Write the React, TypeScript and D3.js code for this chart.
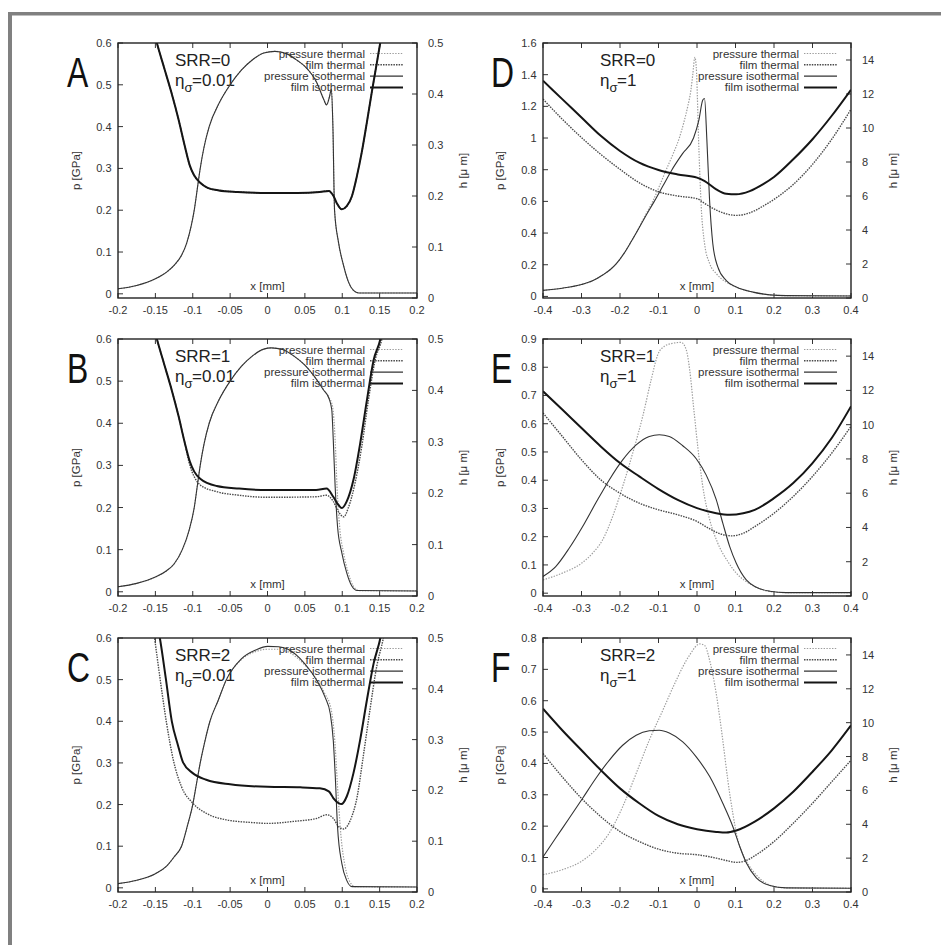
import React from 'react';
import * as d3 from 'd3';

type Pt = [number, number];

// ---------- Panel A (SRR=0, eta=0.01) ----------
const pressureThermalA: Pt[] = [[-0.2,0.012],[-0.175,0.02],[-0.15,0.036],[-0.135,0.052],[-0.125,0.068],[-0.115,0.092],[-0.108,0.122],[-0.102,0.163],[-0.098,0.2],[-0.094,0.25],[-0.09,0.3],[-0.085,0.35],[-0.078,0.4],[-0.065,0.455],[-0.05,0.5],[-0.035,0.535],[-0.02,0.56],[-0.005,0.576],[0.01,0.58],[0.026,0.574],[0.04,0.558],[0.05,0.544],[0.066,0.505],[0.075,0.466],[0.079,0.452],[0.083,0.472],[0.0855,0.49],[0.0875,0.4],[0.0897,0.2],[0.095,0.123],[0.1017,0.068],[0.1084,0.028],[0.115,0.008],[0.122,0.002],[0.2,0.002]];
const filmThermalA: Pt[] = [[-0.156,0.545],[-0.148,0.5],[-0.138,0.45],[-0.128,0.4],[-0.119,0.35],[-0.111,0.3],[-0.104,0.26],[-0.098,0.24],[-0.09,0.226],[-0.08,0.216],[-0.065,0.211],[-0.04,0.208],[0,0.206],[0.04,0.206],[0.07,0.208],[0.082,0.21],[0.0883,0.2],[0.0927,0.186],[0.0994,0.174],[0.106,0.18],[0.113,0.2],[0.1196,0.239],[0.126,0.285],[0.133,0.345],[0.1397,0.405],[0.1464,0.462],[0.1508,0.5],[0.156,0.54]];
const pressureIsoA: Pt[] = [[-0.2,0.012],[-0.175,0.02],[-0.15,0.036],[-0.135,0.052],[-0.125,0.068],[-0.115,0.092],[-0.108,0.122],[-0.102,0.163],[-0.098,0.2],[-0.094,0.25],[-0.09,0.3],[-0.085,0.35],[-0.078,0.4],[-0.065,0.455],[-0.05,0.5],[-0.035,0.535],[-0.02,0.56],[-0.005,0.576],[0.01,0.58],[0.026,0.574],[0.04,0.558],[0.05,0.544],[0.066,0.505],[0.075,0.466],[0.079,0.452],[0.083,0.472],[0.0855,0.49],[0.0875,0.4],[0.0897,0.2],[0.095,0.123],[0.1017,0.068],[0.1084,0.028],[0.115,0.008],[0.122,0.002],[0.2,0.002]];
const filmIsoA: Pt[] = [[-0.156,0.545],[-0.148,0.5],[-0.138,0.45],[-0.128,0.4],[-0.119,0.35],[-0.111,0.3],[-0.104,0.26],[-0.098,0.24],[-0.09,0.226],[-0.08,0.216],[-0.065,0.211],[-0.04,0.208],[0,0.206],[0.04,0.206],[0.07,0.208],[0.082,0.21],[0.0883,0.2],[0.0927,0.186],[0.0994,0.174],[0.106,0.18],[0.113,0.2],[0.1196,0.239],[0.126,0.285],[0.133,0.345],[0.1397,0.405],[0.1464,0.462],[0.1508,0.5],[0.156,0.54]];

// ---------- Panel B (SRR=1, eta=0.01) ----------
const pressureThermalB: Pt[] = [[-0.2,0.012],[-0.175,0.02],[-0.15,0.035],[-0.135,0.05],[-0.125,0.066],[-0.114,0.1],[-0.105,0.145],[-0.098,0.2],[-0.094,0.25],[-0.09,0.3],[-0.085,0.35],[-0.078,0.4],[-0.065,0.455],[-0.05,0.5],[-0.035,0.535],[-0.02,0.56],[-0.005,0.576],[0.005,0.579],[0.02,0.575],[0.035,0.56],[0.05,0.538],[0.066,0.503],[0.075,0.48],[0.082,0.462],[0.087,0.44],[0.0905,0.36],[0.093,0.25],[0.0965,0.155],[0.102,0.09],[0.108,0.045],[0.115,0.013],[0.122,0.003],[0.2,0.002]];
const filmThermalB: Pt[] = [[-0.156,0.545],[-0.148,0.5],[-0.138,0.45],[-0.128,0.4],[-0.119,0.35],[-0.111,0.3],[-0.104,0.255],[-0.098,0.232],[-0.09,0.216],[-0.068,0.203],[-0.038,0.196],[0,0.192],[0.065,0.193],[0.079,0.196],[0.088,0.184],[0.095,0.164],[0.102,0.154],[0.108,0.171],[0.117,0.219],[0.126,0.29],[0.135,0.381],[0.144,0.459],[0.153,0.5],[0.158,0.54]];
const pressureIsoB: Pt[] = [[-0.2,0.012],[-0.175,0.02],[-0.15,0.035],[-0.135,0.05],[-0.125,0.066],[-0.114,0.1],[-0.105,0.145],[-0.098,0.2],[-0.094,0.25],[-0.09,0.3],[-0.085,0.35],[-0.078,0.4],[-0.065,0.455],[-0.05,0.5],[-0.035,0.535],[-0.02,0.56],[-0.005,0.576],[0.005,0.579],[0.02,0.575],[0.035,0.56],[0.05,0.538],[0.066,0.503],[0.075,0.479],[0.082,0.46],[0.086,0.432],[0.088,0.36],[0.0905,0.25],[0.0937,0.155],[0.0995,0.092],[0.106,0.045],[0.113,0.013],[0.12,0.003],[0.2,0.002]];
const filmIsoB: Pt[] = [[-0.156,0.545],[-0.148,0.5],[-0.138,0.45],[-0.128,0.4],[-0.119,0.35],[-0.111,0.3],[-0.104,0.262],[-0.098,0.242],[-0.09,0.228],[-0.068,0.214],[-0.038,0.209],[0,0.206],[0.065,0.206],[0.079,0.209],[0.088,0.193],[0.095,0.177],[0.0995,0.171],[0.106,0.184],[0.115,0.226],[0.124,0.297],[0.133,0.381],[0.142,0.459],[0.151,0.5],[0.156,0.54]];

// ---------- Panel C (SRR=2, eta=0.01) ----------
const pressureThermalC: Pt[] = [[-0.2,0.01],[-0.175,0.018],[-0.15,0.034],[-0.135,0.052],[-0.125,0.074],[-0.115,0.1],[-0.107,0.15],[-0.1,0.2],[-0.095,0.25],[-0.09,0.3],[-0.084,0.35],[-0.077,0.4],[-0.066,0.45],[-0.055,0.5],[-0.035,0.548],[-0.015,0.568],[0,0.573],[0.015,0.573],[0.026,0.568],[0.05,0.535],[0.066,0.5],[0.077,0.465],[0.085,0.43],[0.09,0.354],[0.0935,0.25],[0.098,0.13],[0.104,0.05],[0.11,0.015],[0.117,0.003],[0.2,0.002]];
const filmThermalC: Pt[] = [[-0.156,0.56],[-0.151,0.5],[-0.144,0.423],[-0.135,0.332],[-0.126,0.26],[-0.115,0.207],[-0.1,0.175],[-0.082,0.155],[-0.055,0.142],[-0.023,0.137],[0,0.135],[0.035,0.139],[0.066,0.145],[0.079,0.152],[0.088,0.145],[0.095,0.129],[0.102,0.124],[0.111,0.142],[0.12,0.188],[0.128,0.266],[0.137,0.358],[0.146,0.443],[0.155,0.5],[0.16,0.54]];
const pressureIsoC: Pt[] = [[-0.2,0.01],[-0.175,0.018],[-0.15,0.034],[-0.135,0.052],[-0.125,0.074],[-0.115,0.1],[-0.107,0.15],[-0.1,0.2],[-0.095,0.25],[-0.09,0.3],[-0.084,0.35],[-0.077,0.4],[-0.066,0.45],[-0.055,0.5],[-0.035,0.55],[-0.015,0.572],[0,0.58],[0.015,0.579],[0.026,0.574],[0.05,0.538],[0.066,0.498],[0.077,0.458],[0.084,0.418],[0.088,0.354],[0.0905,0.274],[0.0937,0.146],[0.0995,0.058],[0.106,0.018],[0.113,0.003],[0.2,0.002]];
const filmIsoC: Pt[] = [[-0.15,0.545],[-0.144,0.5],[-0.136,0.42],[-0.128,0.336],[-0.12,0.29],[-0.113,0.255],[-0.1,0.234],[-0.082,0.221],[-0.05,0.212],[0,0.207],[0.044,0.206],[0.07,0.204],[0.082,0.198],[0.088,0.185],[0.095,0.175],[0.099,0.173],[0.106,0.188],[0.115,0.234],[0.124,0.3],[0.133,0.378],[0.142,0.45],[0.151,0.5],[0.156,0.54]];

// ---------- Panel D (SRR=0, eta=1) ----------
const pressureThermalD: Pt[] = [[-0.4,0.038],[-0.35,0.052],[-0.3,0.075],[-0.27,0.1],[-0.245,0.135],[-0.225,0.17],[-0.21,0.205],[-0.19,0.27],[-0.17,0.35],[-0.158,0.4],[-0.137,0.5],[-0.115,0.6],[-0.097,0.7],[-0.08,0.8],[-0.062,0.9],[-0.046,1.0],[-0.034,1.1],[-0.024,1.2],[-0.016,1.3],[-0.011,1.4],[-0.0056,1.51],[-0.002,1.45],[0.005,0.925],[0.011,0.566],[0.0196,0.334],[0.033,0.207],[0.05,0.144],[0.076,0.09],[0.102,0.059],[0.1455,0.027],[0.189,0.01],[0.232,0.005],[0.4,0.003]];
const filmThermalD: Pt[] = [[-0.4,11.7],[-0.35,10.52],[-0.3,9.44],[-0.25,8.45],[-0.2,7.57],[-0.15,6.78],[-0.1,6.25],[-0.05,6.0],[0,5.84],[0.02,5.56],[0.05,5.17],[0.076,4.95],[0.102,4.86],[0.137,5.01],[0.172,5.41],[0.2,5.8],[0.25,6.68],[0.3,7.86],[0.35,9.34],[0.4,11.1]];
const pressureIsoD: Pt[] = [[-0.4,0.038],[-0.35,0.052],[-0.3,0.075],[-0.27,0.1],[-0.245,0.135],[-0.225,0.17],[-0.21,0.205],[-0.19,0.27],[-0.17,0.35],[-0.158,0.4],[-0.135,0.5],[-0.111,0.6],[-0.088,0.7],[-0.065,0.8],[-0.038,0.9],[-0.009,1.0],[0.005,1.115],[0.015,1.24],[0.0196,1.25],[0.0256,0.99],[0.0326,0.61],[0.041,0.334],[0.054,0.186],[0.076,0.1],[0.102,0.059],[0.1455,0.027],[0.189,0.01],[0.232,0.005],[0.4,0.003]];
const filmIsoD: Pt[] = [[-0.4,12.78],[-0.35,11.7],[-0.3,10.62],[-0.25,9.54],[-0.2,8.65],[-0.15,7.96],[-0.1,7.53],[-0.05,7.27],[0,7.08],[0.02,6.88],[0.05,6.39],[0.076,6.13],[0.102,6.1],[0.137,6.29],[0.172,6.7],[0.2,7.12],[0.25,8.16],[0.3,9.34],[0.35,10.72],[0.4,12.25]];

// ---------- Panel E (SRR=1, eta=1) ----------
const pressureThermalE: Pt[] = [[-0.4,0.047],[-0.35,0.071],[-0.3,0.106],[-0.271,0.142],[-0.245,0.189],[-0.219,0.272],[-0.193,0.378],[-0.167,0.496],[-0.141,0.626],[-0.119,0.756],[-0.102,0.844],[-0.085,0.874],[-0.063,0.885],[-0.041,0.888],[-0.028,0.862],[-0.019,0.791],[-0.009,0.661],[0.002,0.519],[0.015,0.378],[0.033,0.26],[0.054,0.177],[0.08,0.112],[0.102,0.071],[0.128,0.041],[0.154,0.021],[0.189,0.006],[0.232,0.002],[0.4,0.002]];
const filmThermalE: Pt[] = [[-0.4,10.68],[-0.35,9.32],[-0.3,7.95],[-0.25,6.78],[-0.2,6.0],[-0.15,5.42],[-0.1,5.03],[-0.05,4.74],[0,4.35],[0.03,3.96],[0.06,3.63],[0.09,3.51],[0.12,3.66],[0.15,4.05],[0.2,4.83],[0.25,5.81],[0.3,6.98],[0.35,8.34],[0.4,9.9]];
const pressureIsoE: Pt[] = [[-0.4,0.059],[-0.367,0.094],[-0.332,0.159],[-0.297,0.236],[-0.263,0.319],[-0.228,0.401],[-0.193,0.472],[-0.158,0.525],[-0.124,0.555],[-0.098,0.561],[-0.072,0.555],[-0.037,0.522],[-0.002,0.476],[0.024,0.418],[0.05,0.331],[0.067,0.248],[0.085,0.165],[0.102,0.106],[0.128,0.047],[0.154,0.021],[0.189,0.007],[0.232,0.002],[0.4,0.002]];
const filmIsoE: Pt[] = [[-0.4,11.95],[-0.35,10.88],[-0.3,9.8],[-0.25,8.73],[-0.2,7.76],[-0.15,6.98],[-0.1,6.24],[-0.05,5.61],[0,5.13],[0.05,4.83],[0.085,4.74],[0.12,4.83],[0.15,5.03],[0.2,5.71],[0.25,6.59],[0.3,7.76],[0.35,9.22],[0.4,11.07]];

// ---------- Panel F (SRR=2, eta=1) ----------
const pressureThermalF: Pt[] = [[-0.4,0.045],[-0.35,0.061],[-0.3,0.088],[-0.263,0.125],[-0.228,0.178],[-0.193,0.262],[-0.158,0.368],[-0.124,0.474],[-0.089,0.569],[-0.054,0.665],[-0.02,0.744],[0.007,0.781],[0.02,0.776],[0.033,0.728],[0.05,0.622],[0.067,0.474],[0.08,0.347],[0.093,0.241],[0.106,0.157],[0.124,0.098],[0.146,0.056],[0.172,0.024],[0.198,0.008],[0.232,0.003],[0.4,0.002]];
const filmThermalF: Pt[] = [[-0.4,8.18],[-0.35,6.8],[-0.3,5.53],[-0.25,4.45],[-0.2,3.57],[-0.15,2.98],[-0.1,2.53],[-0.05,2.29],[0,2.2],[0.05,2.0],[0.076,1.86],[0.102,1.75],[0.128,1.86],[0.15,2.14],[0.2,2.98],[0.25,4.06],[0.3,5.24],[0.35,6.51],[0.4,7.78]];
const pressureIsoF: Pt[] = [[-0.4,0.102],[-0.367,0.162],[-0.332,0.225],[-0.297,0.289],[-0.263,0.352],[-0.228,0.41],[-0.193,0.458],[-0.158,0.49],[-0.124,0.504],[-0.098,0.506],[-0.072,0.497],[-0.037,0.469],[-0.002,0.421],[0.033,0.358],[0.067,0.273],[0.093,0.199],[0.111,0.135],[0.128,0.083],[0.154,0.035],[0.189,0.011],[0.232,0.003],[0.4,0.002]];
const filmIsoF: Pt[] = [[-0.4,10.82],[-0.35,9.55],[-0.3,8.37],[-0.25,7.2],[-0.2,6.12],[-0.15,5.24],[-0.1,4.49],[-0.05,4.0],[0,3.71],[0.05,3.55],[0.076,3.51],[0.102,3.63],[0.15,4.16],[0.2,4.94],[0.25,5.92],[0.3,7.1],[0.35,8.37],[0.4,9.84]];

// ---------- labels / ticks ----------
const panelLetters = ['A', 'B', 'C', 'D', 'E', 'F'];
const srrValues = ['0', '1', '2', '0', '1', '2'];
const etaValues = ['0.01', '0.01', '0.01', '1', '1', '1'];
const legendLabels = ['pressure thermal', 'film thermal', 'pressure isothermal', 'film isothermal'];
const xTicksNarrow = [-0.2, -0.15, -0.1, -0.05, 0, 0.05, 0.1, 0.15, 0.2];
const xTicksWide = [-0.4, -0.3, -0.2, -0.1, 0, 0.1, 0.2, 0.3, 0.4];
const pTicksLow = [0, 0.1, 0.2, 0.3, 0.4, 0.5, 0.6];
const pTicksD = [0, 0.2, 0.4, 0.6, 0.8, 1, 1.2, 1.4, 1.6];
const pTicksE = [0, 0.1, 0.2, 0.3, 0.4, 0.5, 0.6, 0.7, 0.8, 0.9];
const pTicksF = [0, 0.1, 0.2, 0.3, 0.4, 0.5, 0.6, 0.7, 0.8];
const hTicksThin = [0, 0.1, 0.2, 0.3, 0.4, 0.5];
const hTicksThick = [0, 2, 4, 6, 8, 10, 12, 14];
const xMaxValues = [0.2, 0.2, 0.2, 0.4, 0.4, 0.4];
const pMinValue = -0.01;
const pMaxValues = [0.6, 0.6, 0.6, 1.6, 0.9, 0.8];
const hMaxValues = [0.5, 0.5, 0.5, 15, 15, 15];

const seriesByPanel: Pt[][][] = [
  [pressureThermalA, filmThermalA, pressureIsoA, filmIsoA],
  [pressureThermalB, filmThermalB, pressureIsoB, filmIsoB],
  [pressureThermalC, filmThermalC, pressureIsoC, filmIsoC],
  [pressureThermalD, filmThermalD, pressureIsoD, filmIsoD],
  [pressureThermalE, filmThermalE, pressureIsoE, filmIsoE],
  [pressureThermalF, filmThermalF, pressureIsoF, filmIsoF],
];
const xTicksByPanel = [xTicksNarrow, xTicksNarrow, xTicksNarrow, xTicksWide, xTicksWide, xTicksWide];
const pTicksByPanel = [pTicksLow, pTicksLow, pTicksLow, pTicksD, pTicksE, pTicksF];
const hTicksByPanel = [hTicksThin, hTicksThin, hTicksThin, hTicksThick, hTicksThick, hTicksThick];

// ---------- layout / styles ----------
const FONT = '"Liberation Sans", Arial, Helvetica, sans-serif';
const COL_LEFT = [118, 543];
const COL_RIGHT = [417, 851];
const ROW_TOP = [43, 339, 638];
const ROW_BOTTOM = [298, 596, 892];
const TICK = 5;
const STYLES = [
  { stroke: '#9c9c9c', width: 1.2, dash: '1.4 1.4', isFilm: false },
  { stroke: '#4a4a4a', width: 1.4, dash: '1.5 1.1', isFilm: true },
  { stroke: '#333', width: 1.1, dash: undefined, isFilm: false },
  { stroke: '#151515', width: 2, dash: undefined, isFilm: true },
];

const fmt = (v: number) => String(+v.toFixed(3));

function Panel({ idx }: { idx: number }) {
  const col = idx < 3 ? 0 : 1;
  const row = idx % 3;
  const left = COL_LEFT[col];
  const right = COL_RIGHT[col];
  const top = ROW_TOP[row];
  const bottom = ROW_BOTTOM[row];
  const xMax = xMaxValues[idx];
  const x = d3.scaleLinear().domain([-xMax, xMax]).range([left, right]);
  const yp = d3.scaleLinear().domain([pMinValue, pMaxValues[idx]]).range([bottom, top]);
  const yh = d3.scaleLinear().domain([0, hMaxValues[idx]]).range([bottom, top]);
  const lineP = d3.line<Pt>().x(d => x(d[0])).y(d => yp(d[1])).curve(d3.curveMonotoneX);
  const lineH = d3.line<Pt>().x(d => x(d[0])).y(d => yh(d[1])).curve(d3.curveMonotoneX);
  const clipId = `clip-${idx}`;
  const midY = (top + bottom) / 2;
  const letterX = col === 0 ? 67 : 491;
  const pLabelX = col === 0 ? 80 : 504;
  const hLabelX = col === 0 ? 467 : 897;
  const legendTextX = right - 52;
  const series = seriesByPanel[idx];

  return (
    <g>
      <defs>
        <clipPath id={clipId}>
          <rect x={left} y={top} width={right - left} height={bottom - top} />
        </clipPath>
      </defs>

      {/* big letter */}
      <text transform={`translate(${letterX},${top + 44}) scale(0.76,1)`} fontSize={42} fontFamily={FONT} fill="#111">
        {panelLetters[idx]}
      </text>

      {/* axis titles */}
      <text transform={`translate(${pLabelX},${midY}) rotate(-90)`} textAnchor="middle" fontSize={11.5} fontFamily={FONT} fill="#333">p [GPa]</text>
      <text transform={`translate(${hLabelX},${midY}) rotate(-90)`} textAnchor="middle" fontSize={11.5} fontFamily={FONT} fill="#333">h [μ m]</text>
      <text x={x(0)} y={bottom - 8} textAnchor="middle" fontSize={11.5} fontFamily={FONT} fill="#333">x [mm]</text>

      {/* ticks */}
      {xTicksByPanel[idx].map(t => (
        <g key={`x${t}`}>
          <line x1={x(t)} x2={x(t)} y1={bottom} y2={bottom - TICK} stroke="#333" strokeWidth={1} />
          <line x1={x(t)} x2={x(t)} y1={top} y2={top + TICK} stroke="#333" strokeWidth={1} />
          <text x={x(t)} y={bottom + 15.5} textAnchor="middle" fontSize={11} fontFamily={FONT} fill="#333">{fmt(t)}</text>
        </g>
      ))}
      {pTicksByPanel[idx].map(t => (
        <g key={`p${t}`}>
          <line x1={left} x2={left + TICK} y1={yp(t)} y2={yp(t)} stroke="#333" strokeWidth={1} />
          <text x={left - 6.5} y={yp(t) + 4} textAnchor="end" fontSize={11} fontFamily={FONT} fill="#333">{fmt(t)}</text>
        </g>
      ))}
      {hTicksByPanel[idx].map(t => (
        <g key={`h${t}`}>
          <line x1={right} x2={right - TICK} y1={yh(t)} y2={yh(t)} stroke="#333" strokeWidth={1} />
          <text x={right + 11} y={yh(t) + 4} textAnchor="start" fontSize={11} fontFamily={FONT} fill="#333">{fmt(t)}</text>
        </g>
      ))}

      {/* annotations */}
      <text x={left + 57} y={top + 22.5} fontSize={17} fontFamily={FONT} fill="#222">SRR={srrValues[idx]}</text>
      <text x={left + 57} y={top + 43} fontSize={17} fontFamily={FONT} fill="#222">η</text>
      <text x={left + 66.5} y={top + 49} fontSize={13} fontFamily={FONT} fill="#222">σ</text>
      <text x={left + 74} y={top + 43} fontSize={17} fontFamily={FONT} fill="#222">={etaValues[idx]}</text>

      {/* legend */}
      {legendLabels.map((lab, i) => {
        const cy = top + 10.5 + i * 11.3;
        const st = STYLES[i];
        return (
          <g key={lab}>
            <text x={legendTextX} y={cy + 4} textAnchor="end" fontSize={11.5} fontFamily={FONT} fill="#333">{lab}</text>
            <line x1={right - 47} x2={right - 14} y1={cy} y2={cy} stroke={st.stroke} strokeWidth={st.width} strokeDasharray={st.dash} />
          </g>
        );
      })}

      {/* curves */}
      <g clipPath={`url(#${clipId})`}>
        {series.map((s, i) => {
          const st = STYLES[i];
          const d = st.isFilm ? lineH(s) : lineP(s);
          return <path key={i} d={d || ''} fill="none" stroke={st.stroke} strokeWidth={st.width} strokeDasharray={st.dash} strokeLinejoin="round" />;
        })}
      </g>

      {/* frame */}
      <rect x={left} y={top} width={right - left} height={bottom - top} fill="none" stroke="#222" strokeWidth={1.4} />
    </g>
  );
}

export default function App() {
  return (
    <svg width={941} height={945} style={{ position: 'absolute', left: 0, top: 0, background: '#fff' }}>
      <rect x={0} y={0} width={941} height={945} fill="#fff" />
      <rect x={8} y={12} width={933} height={3.5} fill="#808080" />
      <rect x={8} y={12} width={4} height={933} fill="#808080" />
      {panelLetters.map((_, i) => <Panel key={i} idx={i} />)}
    </svg>
  );
}
